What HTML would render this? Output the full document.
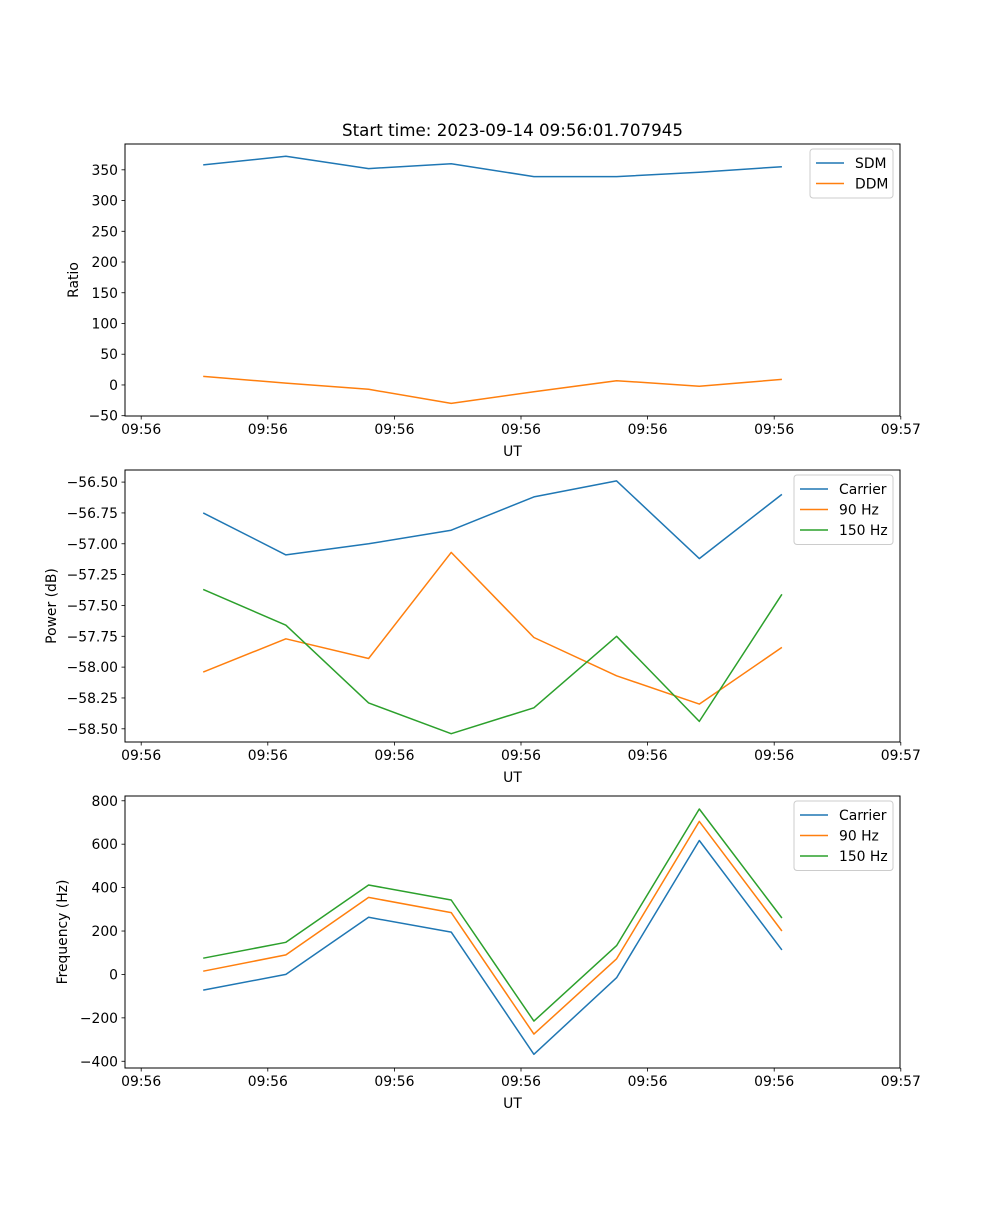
<!DOCTYPE html>
<html><head><meta charset="utf-8">
<style>
html,body{margin:0;padding:0;background:#fff;}
svg text{font-family:"DejaVu Sans","Liberation Sans",sans-serif;font-size:13.9px;fill:#000;}
</style></head>
<body>
<svg id="fig" width="1000" height="1200" xmlns="http://www.w3.org/2000/svg">
<rect width="1000" height="1200" fill="#fff"/>
<text x="512.5" y="136" text-anchor="middle" style="font-size:16.7px">Start time: 2023-09-14 09:56:01.707945</text>
</svg>
<script>
const times = [4.9, 11.43, 17.96, 24.49, 31.02, 37.55, 44.08, 50.61];
const xTickVals = [0, 10, 20, 30, 40, 50, 60];
const xTickLabels = ["09:56","09:56","09:56","09:56","09:56","09:56","09:57"];

const sdm = [358, 372, 352, 360, 339, 339, 346, 355];
const ddm = [14, 3, -7, -30, -11, 7, -2, 9];
const ratioTicks = [-50, 0, 50, 100, 150, 200, 250, 300, 350];

const powCarrier = [-56.75, -57.09, -57.00, -56.89, -56.62, -56.49, -57.12, -56.60];
const pow90 = [-58.04, -57.77, -57.93, -57.07, -57.76, -58.07, -58.30, -57.84];
const pow150 = [-57.37, -57.66, -58.29, -58.54, -58.33, -57.75, -58.44, -57.41];
const powTicks = [-58.5, -58.25, -58.0, -57.75, -57.5, -57.25, -57.0, -56.75, -56.5];

const freqCarrier = [-72, 0, 263, 195, -368, -15, 617, 113];
const freq90 = [15, 90, 355, 285, -275, 72, 705, 200];
const freq150 = [75, 148, 412, 343, -215, 133, 762, 260];
const freqTicks = [-400, -200, 0, 200, 400, 600, 800];

const NS = "http://www.w3.org/2000/svg";
const svg = document.getElementById('fig');
const C = {blue:"#1f77b4", orange:"#ff7f0e", green:"#2ca02c"};
const L = 125, R = 900;
function xs(t){ return 141.2 + t * 12.66; }
function mk(tag, attrs, parent){ const e=document.createElementNS(NS,tag); for(const k in attrs) e.setAttribute(k,attrs[k]); (parent||svg).appendChild(e); return e; }

function panel(key, top, bot, ymin, ymax, ticks, fmt, ylabel, series, legend){
  const g = mk('g',{});
  
  
  const ys = v => bot - (v - ymin) / (ymax - ymin) * (bot - top);
  series.forEach(s=>{
    const p = mk('polyline',{points:s.vals.map((v,i)=>xs(times[i]).toFixed(1)+','+ys(v).toFixed(1)).join(' '),fill:'none',stroke:s.color,'stroke-width':1.5,'stroke-linejoin':'round'},g);
    
    
  });
  const frame = mk('rect',{x:L,y:top,width:R-L,height:bot-top,fill:'none',stroke:'#000','stroke-width':1},g);
  
  
  xTickVals.forEach((t,i)=>{
    const x = xs(t);
    mk('line',{x1:x,x2:x,y1:bot,y2:bot+3.5,stroke:'#000','stroke-width':0.8},g);
    const tx = mk('text',{x:x,y:bot+18,'text-anchor':'middle'},g);
    tx.textContent = xTickLabels[i];
    
    
  });
  const xl = mk('text',{x:(L+R)/2,y:bot+40,'text-anchor':'middle'},g);
  xl.textContent = 'UT';
  
  
  ticks.forEach(v=>{
    const y = ys(v);
    mk('line',{x1:L-3.5,x2:L,y1:y,y2:y,stroke:'#000','stroke-width':0.8},g);
    const tx = mk('text',{x:L-7,y:y+5,'text-anchor':'end'},g);
    tx.textContent = fmt(v);
    
    
  });
  const yl = mk('text',{x:legend.ylx,y:(top+bot)/2,'text-anchor':'middle',transform:'rotate(-90 '+legend.ylx+' '+(top+bot)/2+')'},g);
  yl.textContent = ylabel;
  
  
  const lg = mk('g',{},g);
  
  
  const h = 8 + series.length*20.5;
  mk('rect',{x:legend.x,y:top+5,width:893-legend.x,height:h,rx:3,fill:'#fff','fill-opacity':0.8,stroke:'#ccc','stroke-width':1},lg);
  series.forEach((s,i)=>{
    const y = top+5+14+i*20.5;
    mk('line',{x1:legend.x+6,x2:legend.x+34,y1:y,y2:y,stroke:s.color,'stroke-width':1.5},lg);
    const t = mk('text',{x:legend.x+45,y:y+5},lg);
    t.textContent = s.name;
    
    
  });
}

function minus(s){ return s.replace('-', '\u2212'); }
panel('ratio',144,416,-50.5,392,ratioTicks,v=>minus(String(v)),'Ratio',
  [{id:'sdm',name:'SDM',vals:sdm,color:C.blue},{id:'ddm',name:'DDM',vals:ddm,color:C.orange}],{x:810,ylx:78});
panel('power',470,742,-58.607,-56.402,powTicks,v=>minus(v.toFixed(2)),'Power (dB)',
  [{id:'carrier',name:'Carrier',vals:powCarrier,color:C.blue},{id:'90hz',name:'90 Hz',vals:pow90,color:C.orange},{id:'150hz',name:'150 Hz',vals:pow150,color:C.green}],{x:794,ylx:56});
panel('frequency',796,1068,-431,822,freqTicks,v=>minus(String(v)),'Frequency (Hz)',
  [{id:'carrier',name:'Carrier',vals:freqCarrier,color:C.blue},{id:'90hz',name:'90 Hz',vals:freq90,color:C.orange},{id:'150hz',name:'150 Hz',vals:freq150,color:C.green}],{x:794,ylx:67});
</script>
</body></html>
